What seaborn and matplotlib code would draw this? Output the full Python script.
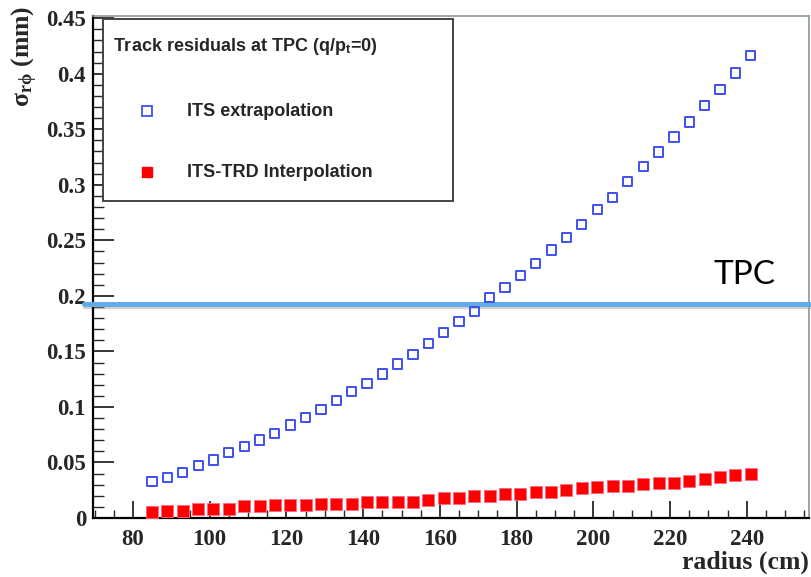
import matplotlib
matplotlib.use("Agg")
import matplotlib.pyplot as plt
from matplotlib.patches import Rectangle
from matplotlib.lines import Line2D
from matplotlib.ticker import MultipleLocator
import seaborn as sns
import pandas as pd

# Radial positions of the residual estimates (cm)
radius = [85, 89, 93, 97, 101, 105, 109, 113, 117, 121,
          125, 129, 133, 137, 141, 145, 149, 153, 157, 161,
          165, 169, 173, 177, 181, 185, 189, 193, 197, 201,
          205, 209, 213, 217, 221, 225, 229, 233, 237, 241]

# sigma_rphi (mm) for the ITS-only extrapolation
its_extrap = [0.0327, 0.0367, 0.0408, 0.0471, 0.0523, 0.0589, 0.0643, 0.0703, 0.0763, 0.0838,
              0.0907, 0.0979, 0.1057, 0.1138, 0.1213, 0.1297, 0.1387, 0.1474, 0.1568, 0.1670,
              0.1770, 0.1859, 0.1985, 0.2078, 0.2186, 0.2288, 0.2414, 0.2523, 0.2640, 0.2775,
              0.2889, 0.3027, 0.3165, 0.3295, 0.3430, 0.3565, 0.3712, 0.3856, 0.4006, 0.4162]

# sigma_rphi (mm) for the ITS-TRD interpolation
its_trd_interp = [0.0057, 0.0064, 0.0064, 0.0080, 0.0080, 0.0080, 0.0105, 0.0105, 0.0117, 0.0117,
                  0.0117, 0.0123, 0.0130, 0.0130, 0.0143, 0.0143, 0.0147, 0.0147, 0.0164, 0.0180,
                  0.0180, 0.0194, 0.0202, 0.0214, 0.0216, 0.0230, 0.0237, 0.0252, 0.0267, 0.0282,
                  0.0285, 0.0285, 0.0304, 0.0312, 0.0318, 0.0334, 0.0350, 0.0368, 0.0384, 0.0396]

tpc_level = 0.193  # intrinsic TPC resolution level (mm)

series_labels = ["ITS extrapolation", "ITS-TRD Interpolation"]
legend_title = r"Track residuals at TPC (q/p$_{\mathregular{t}}$=0)"
y_ticks = [0, 0.05, 0.1, 0.15, 0.2, 0.25, 0.3, 0.35, 0.4, 0.45]
y_tick_labels = ["0", "0.05", "0.1", "0.15", "0.2", "0.25", "0.3", "0.35", "0.4", "0.45"]

df = pd.DataFrame({"radius": radius, "extrap": its_extrap, "interp": its_trd_interp})

sns.set_style("ticks")
plt.rcParams["font.family"] = ["Liberation Serif", "DejaVu Serif"]
plt.rcParams["mathtext.fontset"] = "stix"

BLUE = "#3f50f0"
RED = "#ff0000"

fig = plt.figure(figsize=(8.12, 5.77), dpi=100)
ax = fig.add_axes([93 / 812, 59 / 577, 716 / 812, 502 / 577])

sns.scatterplot(data=df, x="radius", y="extrap", ax=ax, marker="s", s=44,
                facecolors="none", edgecolor=BLUE, linewidth=1.4, zorder=4)
sns.scatterplot(data=df, x="radius", y="interp", ax=ax, marker="s", s=64,
                color=RED, edgecolor="#ff6a86", linewidth=0.6, zorder=4)

ax.set_xlim(69.6, 256.2)
ax.set_ylim(0, 0.452)

# axis ticks: major + minor, pointing inward
ax.xaxis.set_major_locator(MultipleLocator(20))
ax.xaxis.set_minor_locator(MultipleLocator(5))
ax.yaxis.set_minor_locator(MultipleLocator(0.01))
ax.tick_params(axis="x", which="major", direction="in", length=12, width=1.3,
               pad=8, labelsize=16.5, top=False)
ax.tick_params(axis="x", which="minor", direction="in", length=6, width=1.0, top=False)
ax.tick_params(axis="y", which="major", direction="in", length=15, width=1.3,
               pad=5, labelsize=16.5, right=False)
ax.tick_params(axis="y", which="minor", direction="in", length=8, width=1.0, right=False)
ax.set_yticks(y_ticks)
ax.set_yticklabels(y_tick_labels)
for lbl in ax.get_xticklabels() + ax.get_yticklabels():
    lbl.set_fontweight("bold")

ax.set_xlabel("radius (cm)", fontsize=18.5, fontweight="bold", loc="right", labelpad=0)
ax.set_ylabel(r"$\mathregular{\sigma_{r\phi}}$ (mm)", fontsize=18.5, fontweight="bold",
              loc="top", labelpad=4)
ax.yaxis.label.set_y(1.02)

for side in ("left", "bottom"):
    ax.spines[side].set_color("black")
    ax.spines[side].set_linewidth(1.6)
for side in ("top", "right"):
    ax.spines[side].set_color("#8a9898")
    ax.spines[side].set_linewidth(1.2)

# TPC reference level with a soft shadow
ax.axhline(tpc_level - 0.0033, xmin=-0.012, xmax=1.01, color="#9a9a9a", lw=2.5,
           alpha=0.45, clip_on=False, zorder=2)
ax.axhline(tpc_level, xmin=-0.012, xmax=1.01, color="#62ace6", lw=3.6,
           clip_on=False, zorder=3)
ax.text(0.953, 0.485, "TPC", transform=ax.transAxes, ha="right", va="center",
        fontsize=24, family="Lato", color="black")

# legend box
ax.add_patch(Rectangle((0.014, 0.631), 0.489, 0.363, transform=ax.transAxes,
                       facecolor="white", edgecolor="#444444", lw=1.4, zorder=5))
ax.text(0.028, 0.94, legend_title, transform=ax.transAxes, ha="left", va="center",
        fontsize=13, family="Liberation Sans", fontweight="bold", zorder=6)
ax.add_line(Line2D([0.075], [0.81], transform=ax.transAxes, marker="s", ms=6.5,
                   mfc="none", mec=BLUE, mew=1.3, ls="none", zorder=6))
ax.text(0.131, 0.81, series_labels[0], transform=ax.transAxes, ha="left", va="center",
        fontsize=13, family="Liberation Sans", fontweight="bold", zorder=6)
ax.add_line(Line2D([0.075], [0.689], transform=ax.transAxes, marker="s", ms=7.5,
                   mfc=RED, mec=RED, ls="none", zorder=6))
ax.text(0.131, 0.689, series_labels[1], transform=ax.transAxes, ha="left", va="center",
        fontsize=13, family="Liberation Sans", fontweight="bold", zorder=6)

fig.savefig("out.png", dpi=100)
